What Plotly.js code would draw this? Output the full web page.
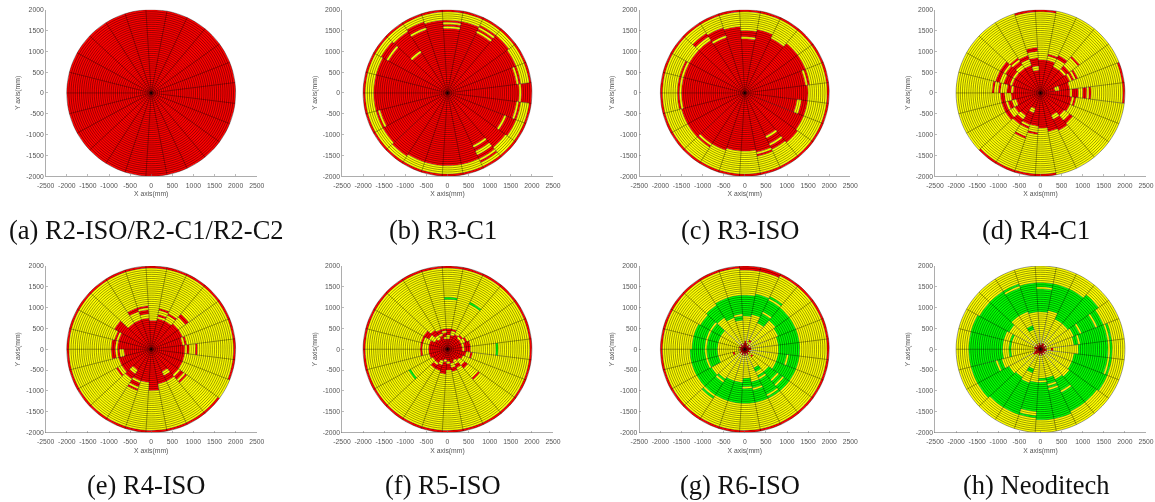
<!DOCTYPE html>
<html><head><meta charset="utf-8">
<script src="https://cdn.plot.ly/plotly-3.0.1.min.js"></script>
<style>html,body{margin:0;padding:0;background:#fff}#p{width:1155px;height:502px}
#p .cartesianlayer{filter:blur(0.4px)}</style>
</head><body><div id="p"></div>
<script>
// Each string = one sector (centred at k*14.4 deg, CCW). Token = state + outer radius in mm.
const sectorCount = 25;
const ringStep = 50;
const outerRadius = 2000;
const tickValuesX = [-2500,-2000,-1500,-1000,-500,0,500,1000,1500,2000,2500];
const tickLabelsX = ["-2500","-2000","-1500","-1000","-500","0","500","1000","1500","2000","2500"];
const tickValuesY = [-2000,-1500,-1000,-500,0,500,1000,1500,2000];
const tickLabelsY = ["-2000","-1500","-1000","-500","0","500","1000","1500","2000"];
const captions = ["(a) R2-ISO/R2-C1/R2-C2","(b) R3-C1","(c) R3-ISO","(d) R4-C1","(e) R4-ISO","(f) R5-ISO","(g) R6-ISO","(h) Neoditech"];

const panelA = ["R2000","R2000","R2000","R2000","R2000","R2000","R2000","R2000","R2000","R2000","R2000","R2000","R2000","R2000","R2000","R2000","R2000","R2000","R2000","R2000","R2000","R2000","R2000","R2000","R2000"];
const panelB = [
"R1700 Y1750 R2000","R1650 Y1700 R1750 Y1950 R2000","R1750 Y1950 R2000","R1800 Y1950 R2000",
"R1600 Y1650 R1700 Y1750 R1800 Y1950 R2000","R1750 Y1950 R2000","R1550 Y1600 R1650 Y1700 R1750 Y1950 R2000","R1750 Y1950 R2000",
"R1600 Y1650 R1800 Y1950 R2000","R1150 Y1200 R1750 Y1950 R2000","R1600 Y1650 R1800 Y1950 R2000","R1750 Y1950 R2000",
"R1750 Y1950 R2000","R1750 Y1950 R2000","R1650 Y1700 R1750 Y1950 R2000","R1750 Y1950 R2000",
"R1800 Y1950 R2000","R1750 Y1950 R2000","R1750 Y1950 R2000","R1750 Y1950 R2000",
"R1750 Y1950 R2000","R1400 Y1450 R1550 Y1650 R1750 Y1800 R1850 Y1950 R2000","R1700 Y1950 R2000","R1450 Y1500 R1750 Y1950 R2000",
"R1650 Y1700 R1750 Y1950 R2000"];
const panelC = [
"R1500 Y1950 R2000","R1450 Y1500 R1550 Y1950 R2000","R1550 Y1950 R2000","R1550 Y1950 R2000",
"R1450 Y1950 R2000","R1550 Y1950 R2000","R1300 Y1350 R1500 Y1950 R2000","R1600 Y1950 R2000",
"R1400 Y1450 R1650 Y1950 R2000","R1500 Y1600 R1700 Y1950 R2000","R1500 Y1950 R2000","R1500 Y1550 R1600 Y1950 R2000",
"R1500 Y1550 R1600 Y1950 R2000","R1500 Y1550 R1600 Y1950 R2000","R1550 Y1950 R2000","R1550 Y1950 R2000",
"R1450 Y1500 R1550 Y1950 R2000","R1450 Y1950 R2000","R1400 Y1950 R2000","R1400 Y1950 R2000",
"R1450 Y1500 R1550 Y1950 R2000","R1150 Y1200 R1350 Y1400 R1500 Y1950 R2000","R1550 Y1950 R2000","R1500 Y1950 R2000",
"R1250 Y1350 R1500 Y1950 R2000"];
const panelD = [
"R700 Y750 R900 Y1000 R1100 Y1150 R1200 Y1950 R2000","R350 Y450 R700 Y1950 R2000","R750 Y800 R850 Y900 R950 Y2000","R700 Y750 R850 Y1100 R1150 Y2000",
"R700 Y900 R1000 Y2000","R800 Y900 R950 Y2000","R800 Y1950 R2000","R550 Y650 R850 Y1000 R1100 Y1950 R2000",
"R700 Y850 R950 Y2000","R700 Y800 R900 Y950 R1000 Y2000","R700 Y750 R950 Y1000 R1100 Y2000","R700 Y750 R900 Y1000 R1100 Y1150 Y2000",
"R650 Y700 R800 Y950 R1000 Y1100 R1150 Y2000","R700 Y850 R950 Y2000","R600 Y700 R800 Y850 R950 Y2000","R700 Y850 R950 Y2000",
"R650 Y750 R900 Y1950 R2000","R400 Y500 R800 Y850 R900 Y1100 R1150 Y1950 R2000","R800 Y950 R1000 Y1950 R2000","R850 Y1950 R2000",
"R950 Y2000","R600 Y700 R1000 Y2000","R700 Y850 R950 Y2000","R750 Y2000",
"R750 Y800 R850 Y2000"];
const panelE = [
"R800 Y850 R900 Y1050 R1100 Y1950 R2000","R750 Y800 R850 Y1950 R2000","R800 Y1950 R2000","R800 Y1000 R1100 Y1950 R2000",
"R750 Y900 R950 Y1950 R2000","R750 Y800 R850 Y950 R1000 Y1950 R2000","R700 Y1950 R2000","R750 Y850 R950 Y1000 R1050 Y1950 R2000",
"R750 Y950 R1050 Y1950 R2000","R750 Y1950 R2000","R1000 Y1950 R2000","R800 Y850 R900 Y1950 R2000",
"R800 Y850 R950 Y1950 R2000","R650 Y750 R800 Y850 R950 Y1950 R2000","R800 Y1950 R2000","R800 Y900 R950 Y1950 R2000",
"R600 Y700 R850 Y1950 R2000","R800 Y850 R950 Y1000 R1050 Y1950 R2000","R800 Y1950 R2000","R1000 Y1950 R2000",
"R850 Y1950 R2000","R600 Y700 R850 Y1950 R2000","R800 Y850 R950 Y1000 R1050 Y1950 R2000","R800 Y2000",
"R800 Y1950 R2000"];
const panelF = [
"R350 Y400 R550 Y1150 G1200 Y1950 R2000","R350 Y400 R550 Y1950 R2000","R350 Y450 R500 Y1950 R2000","R350 Y400 R450 Y1950 R2000",
"R400 Y1200 G1250 Y1950 R2000","R350 Y450 R500 Y1950 R2000","R250 Y350 R500 Y1200 G1250 Y1950 R2000","R250 Y300 R400 Y450 R500 Y1950 R2000",
"R350 Y400 R500 Y1950 R2000","R300 Y400 R550 Y1950 R2000","R350 Y500 R650 Y1950 R2000","R450 Y600 R650 Y1950 R2000",
"R450 Y600 R650 Y1950 R2000","R450 Y600 R650 Y1950 R2000","R450 Y1950 R2000","R400 Y1000 G1050 Y1950 R2000",
"R400 Y450 R550 Y1950 R2000","R300 Y400 R550 Y1950 R2000","R250 Y300 R350 Y350 R600 Y1950 R2000","R300 Y350 R400 Y400 R500 Y1950 R2000",
"R350 Y450 R550 Y1950 R2000","R300 Y400 R500 Y1950 R2000","R350 Y500 R600 Y900 R950 Y1950 R2000","R400 Y1950 R2000",
"R450 Y550 R600 Y1950 R2000"];
const panelG = [
"R150 Y800 G1300 Y1950 R2000","R150 Y800 G1300 Y1950 R2000","R100 Y850 G1300 Y1950 R2000","R150 Y900 G1300 Y1950 R2000",
"R100 Y200 R250 Y700 G950 Y1000 G1300 Y1350 G1400 Y1950 R2000","R150 Y850 G1350 Y1900 R2000","R200 Y800 G1300 Y1900 R2000","R150 Y700 G800 Y850 G1300 Y1950 R2000",
"R100 Y800 G1300 Y1950 R2000","R150 Y900 G1250 Y1950 R2000","R100 Y650 G900 Y950 G1200 Y1950 R2000","R150 Y650 G900 Y950 G1250 Y1950 R2000",
"R100 Y650 G900 Y950 G1250 Y1950 R2000","R150 Y650 G900 Y950 G1300 Y1950 R2000","R100 Y250 R300 Y650 G900 Y950 G1300 Y1950 R2000","R150 Y900 G1300 Y1950 R2000",
"R100 Y850 G900 Y950 G1300 Y1350 G1400 Y1950 R2000","R150 Y800 G1300 Y1950 R2000","R100 Y800 G850 G1300 Y1950 R2000","R150 Y700 G900 Y950 G1300 Y1950 R2000",
"R100 Y800 G950 Y1000 G1300 Y1950 R2000","R150 Y500 G600 Y700 G750 Y800 G1200 Y1250 G1300 Y1950 R2000","R100 Y200 R250 Y700 G950 Y1000 G1100 Y1150 G1300 Y1950 R2000","R150 Y800 G1300 Y1950 R2000",
"R100 Y800 G1000 Y1050 G1300 Y1950 R2000"];
const panelH = [
"R150 Y250 R300 Y900 G1600 Y1650 G1700 Y2000","R100 Y800 G900 Y950 G1600 Y1650 G1700 Y2000","R150 Y850 G1000 Y1050 G1400 Y1450 G1600 Y2000","R100 Y800 G1700 Y2000",
"R150 Y800 G1600 Y2000","R150 Y950 G1600 Y2000","R100 Y900 G1450 Y1500 G1600 Y2000","R150 Y900 G1600 Y2000",
"R100 Y500 G600 Y950 G1550 Y1600 G1650 Y2000","R150 Y950 G1650 Y2000","R100 Y850 G1650 Y2000","R150 Y700 G750 Y900 G1700 Y2000",
"R150 Y700 G750 Y900 G1700 Y2000","R100 Y700 G750 Y900 G1700 Y2000","R150 Y950 G1050 Y1100 G1700 Y2000","R200 Y250 Y850 G1700 Y2000",
"R150 Y800 G1650 Y2000","R100 Y500 G600 Y850 G1650 Y2000","R150 Y800 G1500 Y1600 G1650 Y2000","R100 Y700 G750 Y800 G1700 Y2000",
"R150 Y700 G850 Y900 G950 Y1000 G1700 Y2000","R100 Y800 G1100 Y1150 G1650 Y2000","R150 Y850 G1650 Y2000","R100 Y800 G1700 Y2000",
"R150 Y800 G1600 Y1650 G1700 Y2000"];

const panels = [panelA,panelB,panelC,panelD,panelE,panelF,panelG,panelH];
const stateColors = {R:"#ff0000",Y:"#ffff00",G:"#00ff00"};
const W=1155,H=502;
const leftPx=[45.7,342,639.3,935];
const widthPx=211;
const topPx=[9.7,266];
const heightPx=166.5;
const captionX=[146,443,740,1036];
const captionY=[230,485];
const sw=2*Math.PI/sectorCount;

function arc(r,a0,a1,n){const xs=[],ys=[];for(let i=0;i<=n;i++){const a=a0+(a1-a0)*i/n;xs.push(r*Math.cos(a));ys.push(r*Math.sin(a));}return [xs,ys];}

const traces=[];const layout={width:W,height:H,margin:{l:0,r:0,t:0,b:0},paper_bgcolor:"#fff",plot_bgcolor:"#fff",showlegend:false,annotations:[],font:{family:"Liberation Sans, Arial, sans-serif"}};
panels.forEach((bands,p)=>{
  const id=p===0?"":String(p+1);
  const col=p%4,row=Math.floor(p/4);
  const xa="x"+id,ya="y"+id;
  const store={R:[[],[]],Y:[[],[]],G:[[],[]]};
  bands.forEach((s,k)=>{
    let inner=0;const a0=(k-0.5)*sw,a1=(k+0.5)*sw;
    s.split(" ").forEach(tok=>{
      const st=tok[0],outer=+tok.slice(1);
      if(outer<=inner)return;
      const o=arc(outer,a0,a1,5),i=arc(inner,a1,a0,5);
      store[st][0].push(...o[0],...i[0],o[0][0],null);
      store[st][1].push(...o[1],...i[1],o[1][0],null);
      inner=outer;
    });
  });
  Object.keys(store).forEach(st=>{
    if(!store[st][0].length)return;
    traces.push({type:"scatter",mode:"lines",x:store[st][0],y:store[st][1],xaxis:xa,yaxis:ya,fill:"toself",fillcolor:stateColors[st],line:{width:0,color:stateColors[st]},hoverinfo:"skip"});
  });
  const gx=[],gy=[];
  for(let r=ringStep;r<=outerRadius;r+=ringStep){const c=arc(r,0,2*Math.PI,100);gx.push(...c[0],null);gy.push(...c[1],null);}
  traces.push({type:"scatter",mode:"lines",x:gx,y:gy,xaxis:xa,yaxis:ya,line:{width:0.4,color:"#000",simplify:false},hoverinfo:"skip"});
  const sx=[],sy=[];
  for(let k=0;k<sectorCount;k++){const a=(k-0.5)*sw;sx.push(0,outerRadius*Math.cos(a),null);sy.push(0,outerRadius*Math.sin(a),null);}
  traces.push({type:"scatter",mode:"lines",x:sx,y:sy,xaxis:xa,yaxis:ya,line:{width:0.35,color:"#000",simplify:false},hoverinfo:"skip"});
  const common={showgrid:false,zeroline:false,showline:true,linecolor:"#777",linewidth:0.6,ticks:"inside",ticklen:2,tickwidth:0.5,tickcolor:"#777",tickfont:{size:6.8,color:"#555",family:"Liberation Sans"},tickmode:"array",tickangle:0};
  layout["xaxis"+id]=Object.assign({},common,{anchor:"y"+id,domain:[leftPx[col]/W,(leftPx[col]+widthPx)/W],range:[-2500,2500],tickvals:tickValuesX,ticktext:tickLabelsX,ticklabelstandoff:3,title:{text:"X axis(mm)",font:{size:6.8,color:"#555"},standoff:3}});
  layout["yaxis"+id]=Object.assign({},common,{anchor:"x"+id,domain:[1-(topPx[row]+heightPx)/H,1-topPx[row]/H],range:[-2000,2000],tickvals:tickValuesY,ticktext:tickLabelsY,title:{text:"Y axis(mm)",font:{size:6.8,color:"#555"},standoff:4}});
  layout.annotations.push({xref:"paper",yref:"paper",x:captionX[col]/W,y:1-captionY[row]/H,xanchor:"center",yanchor:"middle",showarrow:false,text:captions[p],font:{family:"Liberation Serif, Times New Roman, serif",size:26.5,color:"#111"}});
});
Plotly.newPlot("p",traces,layout,{displayModeBar:false,staticPlot:true});
</script></body></html>
